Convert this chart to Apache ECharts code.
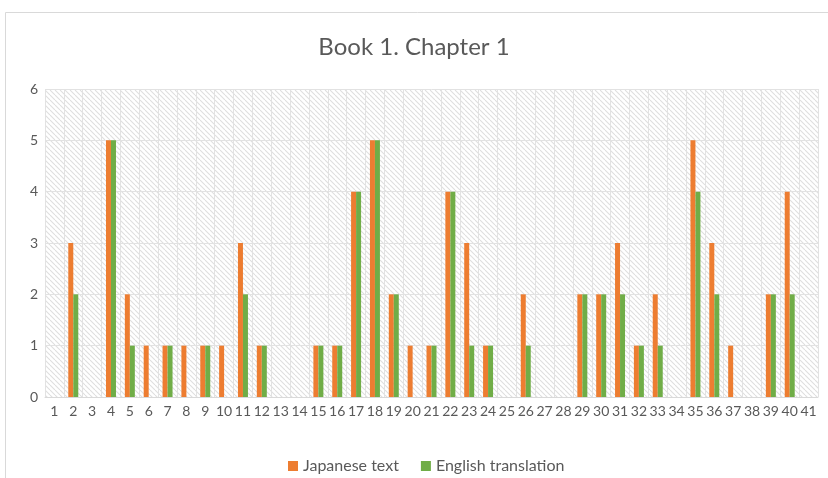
<!DOCTYPE html>
<html><head><meta charset="utf-8">
<script src="https://cdn.jsdelivr.net/npm/echarts@6/dist/echarts.min.js"></script>
<style>html,body{margin:0;padding:0;background:#fff}#c{width:828px;height:478px}</style>
</head><body><div id="c"></div>
<script>
const categories = ['1','2','3','4','5','6','7','8','9','10','11','12','13','14','15','16','17','18','19','20','21','22','23','24','25','26','27','28','29','30','31','32','33','34','35','36','37','38','39','40','41'];
const japanese = [0,3,0,5,2,1,1,1,1,1,3,1,0,0,1,1,4,5,2,1,1,4,3,1,0,2,0,0,2,2,3,1,2,0,5,3,1,0,2,4,0];
const english  = [0,2,0,5,1,0,1,0,1,0,2,1,0,0,1,1,4,5,2,0,1,4,1,1,0,1,0,0,2,2,2,1,1,0,4,2,0,0,2,2,0];
const seriesNames = ['Japanese text','English translation'];
const yTicks = [0,1,2,3,4,5,6];

const T = 5;
const pc = document.createElement('canvas');
pc.width = T; pc.height = T;
const g = pc.getContext('2d');
g.fillStyle = '#ffffff'; g.fillRect(0,0,T,T);
g.strokeStyle = '#dedede'; g.lineWidth = 1.1;
for (let k = -T; k <= 2*T; k += T) {
  g.beginPath(); g.moveTo(k, 0); g.lineTo(k + T, T); g.stroke();
}

const chart = echarts.init(document.getElementById('c'), null, {renderer:'canvas'});
chart.setOption({
  animation:false,
  backgroundColor:'#fff',
  graphic:[{type:'rect',shape:{x:5.5,y:12.5,width:900,height:600},style:{fill:'none',stroke:'#d9d9d9',lineWidth:1}}],
  title:{text:'Book 1. Chapter 1',left:'center',top:30,textStyle:{fontFamily:'Lato',fontWeight:'normal',fontSize:24,color:'#595959'}},
  legend:{top:453,left:283,itemWidth:10,itemHeight:10,itemGap:22,icon:'rect',
    textStyle:{fontFamily:'Lato',fontSize:16,color:'#595959'},data:seriesNames},
  grid:{left:45,right:10,top:89,bottom:81,show:true,borderWidth:0,backgroundColor:{image:pc,repeat:'repeat'}},
  xAxis:{type:'category',data:categories,
    axisLine:{lineStyle:{color:'#d9d9d9'}},axisTick:{show:false},
    splitLine:{show:true,lineStyle:{color:'#e2e2e2'}},
    axisLabel:{interval:0,fontFamily:'Lato',fontSize:14,color:'#595959',margin:7}},
  yAxis:{type:'value',min:0,max:6,interval:1,
    axisLabel:{fontFamily:'Lato',fontSize:14,color:'#595959',margin:7,formatter:v=>yTicks.includes(v)?String(v):''},
    splitLine:{lineStyle:{color:'#e2e2e2'}},axisLine:{show:false},axisTick:{show:false}},
  series:[
    {name:seriesNames[0],type:'bar',data:japanese,itemStyle:{color:'#ED7D31'},barGap:'0%',barCategoryGap:'47%'},
    {name:seriesNames[1],type:'bar',data:english,itemStyle:{color:'#70AD47'},barGap:'0%',barCategoryGap:'47%'}
  ]
});
</script></body></html>
